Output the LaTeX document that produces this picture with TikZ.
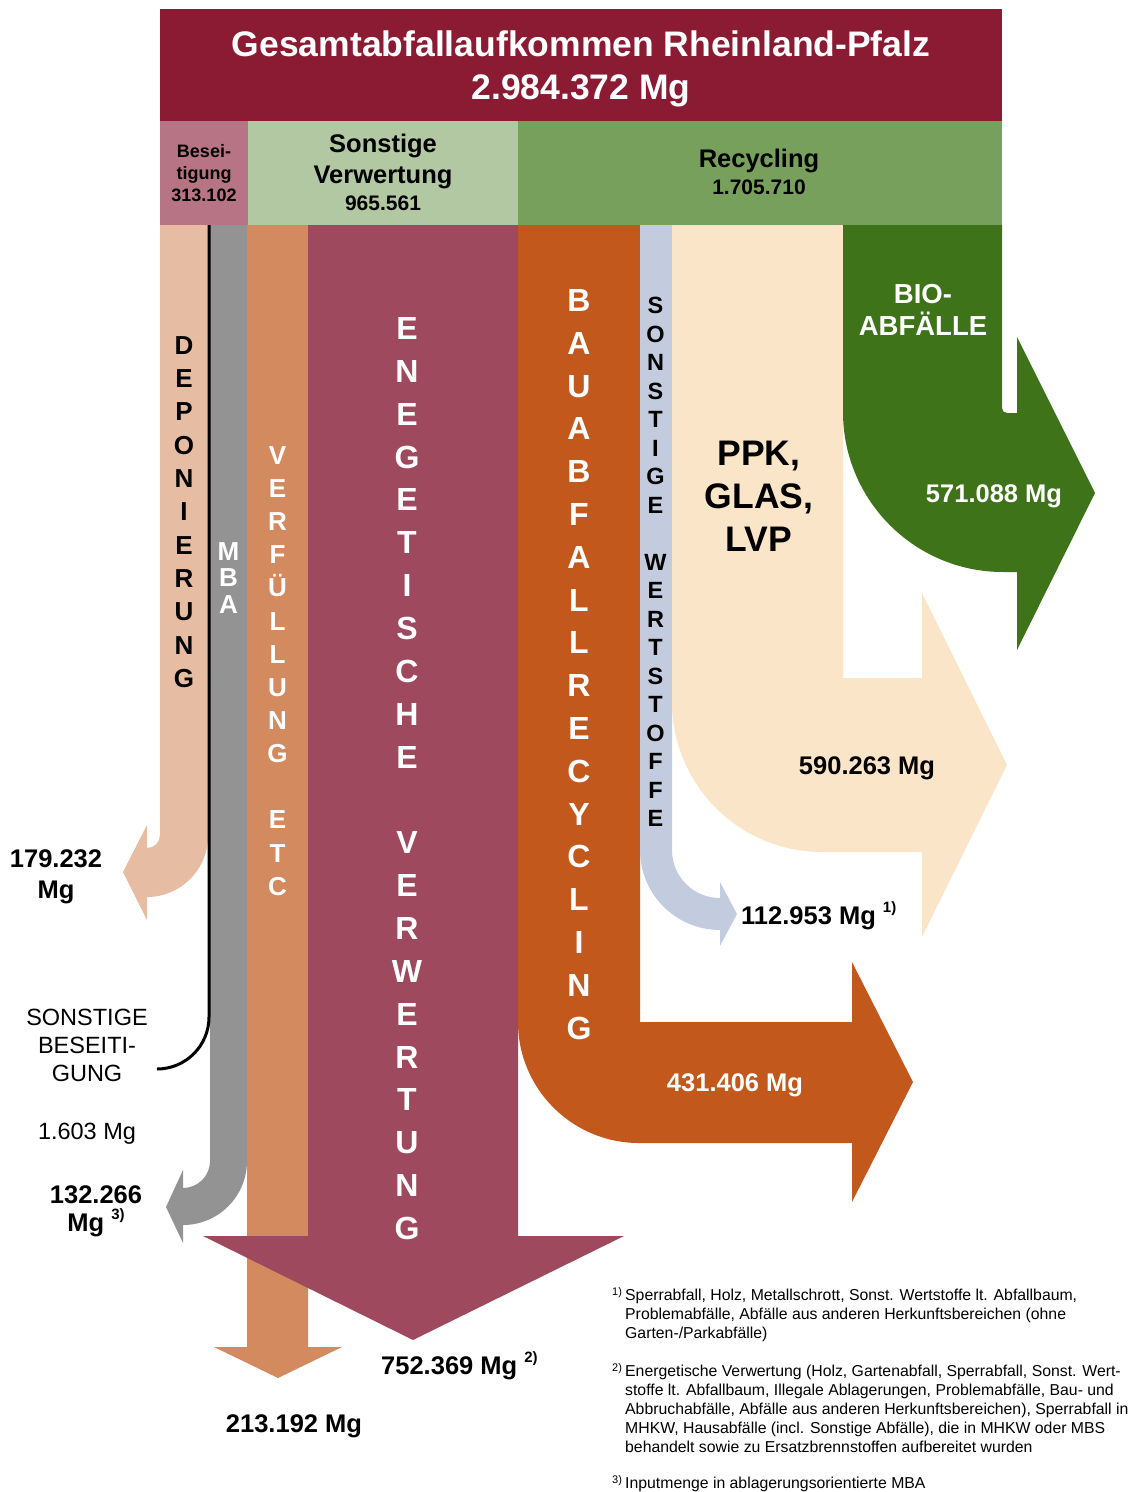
\documentclass[tikz,border=0pt]{standalone}
\usepackage{fontspec}
\setmainfont{Liberation Sans}
\definecolor{titelrot}{HTML}{8B1A33}
\definecolor{beseitfarbe}{HTML}{B77484}
\definecolor{sonstfarbe}{HTML}{B1C8A2}
\definecolor{recyfarbe}{HTML}{77A05C}
\definecolor{depfarbe}{HTML}{E6BCA2}
\definecolor{mbafarbe}{HTML}{939393}
\definecolor{verfarbe}{HTML}{D38A5F}
\definecolor{energiefarbe}{HTML}{9E495D}
\definecolor{baufarbe}{HTML}{C3581C}
\definecolor{wertfarbe}{HTML}{C3CCDF}
\definecolor{ppkfarbe}{HTML}{FAE5C8}
\definecolor{biofarbe}{HTML}{3E7319}
\newcommand{\fussnr}[1]{\raisebox{.45em}{\fontsize{15}{15}\selectfont #1}}
\begin{document}
\begin{tikzpicture}[x=1pt, y=-1pt,
  every node/.style = {inner sep=0pt, anchor=base},
  titel/.style = {font=\bfseries\fontsize{35.5}{40}\selectfont, white},
  kopf/.style = {font=\bfseries\fontsize{25.5}{30}\selectfont},
  kopfzahl/.style = {font=\bfseries\fontsize{21}{25}\selectfont},
  klein/.style = {font=\bfseries\fontsize{18}{21}\selectfont},
  zahl/.style = {font=\bfseries\fontsize{25.5}{30}\selectfont},
  duenn/.style = {font=\fontsize{23.5}{28}\selectfont},
  gross/.style = {font=\bfseries\fontsize{35.5}{43}\selectfont},
  bio/.style = {font=\bfseries\fontsize{27.5}{32}\selectfont, white},
  buchst/.style = {font=\bfseries\fontsize{#1}{#1}\selectfont},
  fuss/.style = {font=\fontsize{15.8}{19}\selectfont, anchor=base west},
  fussnummer/.style = {font=\fontsize{11}{11}\selectfont, anchor=base west}]
\useasboundingbox (0,0) rectangle (1136,1492);

\fill[titelrot] (160,9) rectangle (1002,121);
\fill[beseitfarbe] (160,121) rectangle (248,225);
\fill[sonstfarbe] (248,121) rectangle (518,225);
\fill[recyfarbe] (518,121) rectangle (1002,225);

\node[titel] (titel) at (581,56) {Gesamtabfallaufkommen Rheinland-Pfalz};
\node[titel] (summe) at (581,99) {2.984.372 Mg};
\node[klein] (bes1) at (204,157) {Besei-};
\node[klein] (bes2) at (204,179) {tigung};
\node[klein] (bes3) at (204,201) {313.102};
\node[kopf] (sv1) at (383,152) {Sonstige};
\node[kopf] (sv2) at (383,183) {Verwertung};
\node[kopfzahl] (sv3) at (383,210) {965.561};
\node[kopf] (rec1) at (759,167) {Recycling};
\node[kopfzahl] (rec2) at (759,194) {1.705.710};

\fill[depfarbe] (160,225) -- (208,225) -- (208,836) arc[start angle=0, end angle=90, radius=61]
  -- (147,920) -- (123,872) -- (147,825) -- (147,848) arc[start angle=90, end angle=0, radius=13] -- cycle;
\fill[mbafarbe] (210,225) -- (247,225) -- (247,1161) arc[start angle=0, end angle=90, radius=64]
  -- (183,1243) -- (166,1207) -- (183,1170) -- (183,1188) arc[start angle=90, end angle=0, radius=27] -- cycle;
\fill[verfarbe] (247,225) -- (308,225) -- (308,1347) -- (342,1347) -- (278,1378) -- (214,1347) -- (247,1347) -- cycle;
\fill[energiefarbe] (308,225) -- (518,225) -- (518,1236) -- (624,1236) -- (413,1340) -- (203,1236) -- (308,1236) -- cycle;
\fill[baufarbe] (518,225) -- (640,225) -- (640,1022) -- (852,1022) -- (852,962) -- (913,1082) -- (852,1202)
  -- (852,1143) -- (639,1143) arc[start angle=90, end angle=180, radius=121] -- cycle;
\fill[wertfarbe] (640,225) -- (672,225) -- (672,850) arc[start angle=180, end angle=90, radius=48]
  -- (720,882) -- (737,914) -- (720,946) -- (720,930) arc[start angle=90, end angle=180, radius=80] -- cycle;
\fill[ppkfarbe] (672,225) -- (843,225) -- (843,678) -- (922,678) -- (922,593) -- (1007,765) -- (922,937)
  -- (922,852) -- (822,852) arc[start angle=90, end angle=180, radius=150] -- cycle;
\fill[biofarbe] (843,225) -- (1002,225) -- (1002,408) arc[start angle=180, end angle=90, radius=5]
  -- (1017,413) -- (1017,337) -- (1095,493) -- (1017,650) -- (1017,572) -- (1003,572)
  arc[start angle=90, end angle=180, radius=160] -- cycle;

\coordinate (linie) at (209,225);
\draw[line width=3pt] (linie) -- (209,1017) arc[start angle=0, end angle=90, radius=52];

\foreach \b [count=\i from 0] in {D,E,P,O,N,I,E,R,U,N,G}
  \node[buchst=26] (dep\i) at (184,354.3+33.3*\i) {\b};
\foreach \b [count=\i from 0] in {M,B,A}
  \node[buchst=26, white] (mba\i) at (228.5,560+26.5*\i) {\b};
\foreach \b [count=\i from 0] in {V,E,R,F,Ü,L,L,U,N,G,{},E,T,C}
  \node[buchst=26, white] (ver\i) at (277.5,464.3+33.15*\i) {\b};
\foreach \b [count=\i from 0] in {E,N,E,G,E,T,I,S,C,H,E,{},V,E,R,W,E,R,T,U,N,G}
  \node[buchst=32, white] (ene\i) at (407,339.5+42.86*\i) {\b};
\foreach \b [count=\i from 0] in {B,A,U,A,B,F,A,L,L,R,E,C,Y,C,L,I,N,G}
  \node[buchst=32, white] (bau\i) at (579,311.5+42.8*\i) {\b};
\foreach \b [count=\i from 0] in {S,O,N,S,T,I,G,E,{},W,E,R,T,S,T,O,F,F,E}
  \node[buchst=23.5] (son\i) at (655.5,313.6+28.5*\i) {\b};

\node[gross] (ppk1) at (759,465) {PPK,};
\node[gross] (ppk2) at (759,508) {GLAS,};
\node[gross] (ppk3) at (759,551) {LVP};
\node[bio] (bio1) at (923,303) {BIO-};
\node[bio] (bio2) at (923,335) {ABFÄLLE};

\node[zahl, white] (biozahl) at (994,502) {571.088 Mg};
\node[zahl] (ppkzahl) at (867,774) {590.263 Mg};
\node[zahl, anchor=base west] (wertzahl) at (741,924) {112.953 Mg \fussnr{1)}};
\node[zahl, white] (bauzahl) at (735,1091) {431.406 Mg};
\node[zahl] (depzahl) at (56,867) {179.232};
\node[zahl] (depmg) at (56,898) {Mg};
\node[duenn] (sb1) at (87,1025.5) {SONSTIGE};
\node[duenn] (sb2) at (87,1053.5) {BESEITI-};
\node[duenn] (sb3) at (87,1081.5) {GUNG};
\node[duenn] (sbzahl) at (87,1139.5) {1.603 Mg};
\node[zahl] (mbazahl) at (96,1203) {132.266};
\node[zahl] (mbamg) at (96,1231) {Mg \fussnr{3)}};
\node[zahl, anchor=base west] (energiezahl) at (381,1374) {752.369 Mg \fussnr{2)}};
\node[zahl] (verzahl) at (294,1432) {213.192 Mg};

\node[fussnummer] (nr1) at (612,1295) {1)};
\node[fussnummer] (nr2) at (612,1371) {2)};
\node[fussnummer] (nr3) at (612,1483) {3)};
\foreach \z/\t [count=\i] in {
  1300.5/{Sperrabfall, Holz, Metallschrott, Sonst. Wertstoffe lt. Abfallbaum,},
  1319.5/{Problemabfälle, Abfälle aus anderen Herkunftsbereichen (ohne},
  1338.5/{Garten-/Parkabfälle)},
  1376.5/{Energetische Verwertung (Holz, Gartenabfall, Sperrabfall, Sonst. Wert-},
  1395.5/{stoffe lt. Abfallbaum, Illegale Ablagerungen, Problemabfälle, Bau- und},
  1414.5/{Abbruchabfälle, Abfälle aus anderen Herkunftsbereichen), Sperrabfall in},
  1433.5/{MHKW, Hausabfälle (incl. Sonstige Abfälle), die in MHKW oder MBS},
  1452.5/{behandelt sowie zu Ersatzbrennstoffen aufbereitet wurden},
  1488.5/{Inputmenge in ablagerungsorientierte MBA}}
  \node[fuss] (fuss\i) at (625,\z) {\t};
\end{tikzpicture}
\end{document}
